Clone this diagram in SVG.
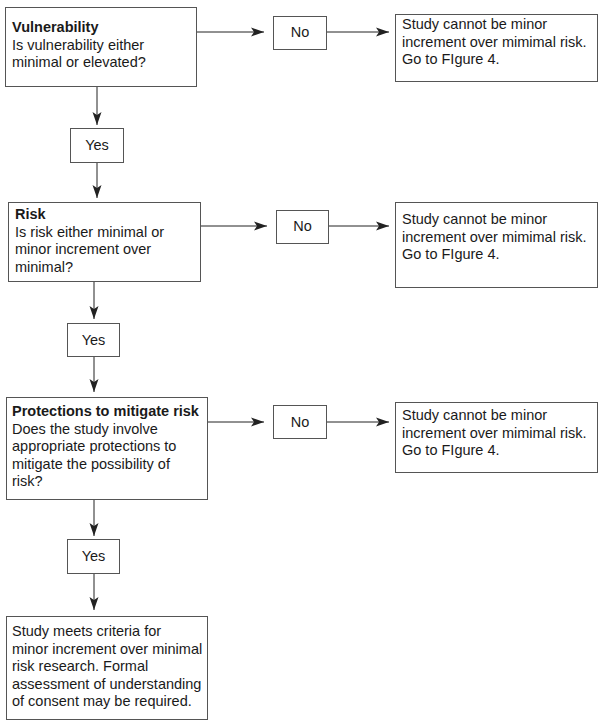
<svg xmlns="http://www.w3.org/2000/svg" width="603" height="725" viewBox="0 0 603 725">
<style>
.box{fill:#fff;stroke:#555;stroke-width:1}
.t{font-family:"Liberation Sans",Arial,sans-serif;font-size:14.5px;fill:#1a1a1a}
.b{font-weight:bold}
.c{stroke:#222;stroke-width:1;fill:none;marker-end:url(#ah)}
</style>
<defs>
<marker id="ah" markerWidth="14" markerHeight="10" refX="13" refY="5" orient="auto" markerUnits="userSpaceOnUse">
<path d="M0,0.5 L13,5 L0,9.5 L3,5 Z" fill="#222"/>
</marker>
</defs>
<rect width="603" height="725" fill="#fff"/>
<g id="connectors">
<line class="c" x1="197" y1="32" x2="264" y2="32"/>
<line class="c" x1="326" y1="32" x2="389" y2="32"/>
<line class="c" x1="97" y1="86" x2="97" y2="125"/>
<line class="c" x1="97" y1="162" x2="97" y2="198"/>
<line class="c" x1="201" y1="226" x2="267" y2="226"/>
<line class="c" x1="329" y1="226" x2="389" y2="226"/>
<line class="c" x1="94" y1="281" x2="94" y2="319"/>
<line class="c" x1="94" y1="356" x2="94" y2="392"/>
<line class="c" x1="207" y1="422" x2="264" y2="422"/>
<line class="c" x1="326" y1="422" x2="389" y2="422"/>
<line class="c" x1="94" y1="499" x2="94" y2="536"/>
<line class="c" x1="94" y1="573" x2="94" y2="610"/>
</g>
<g id="vulnerability">
<rect class="box" x="5.5" y="7.5" width="191" height="79"/>
<text class="t" x="12" y="32"><tspan class="b">Vulnerability</tspan><tspan x="12" dy="17.5">Is vulnerability either</tspan><tspan x="12" dy="17.5">minimal or elevated?</tspan></text>
</g>
<g id="no1">
<rect class="box" x="273.5" y="16.5" width="53" height="33"/>
<text class="t" x="300" y="37" text-anchor="middle">No</text>
</g>
<g id="result1">
<rect class="box" x="395.5" y="14.5" width="202" height="67"/>
<text class="t" x="402" y="29">Study cannot be minor<tspan x="402" dy="17.7">increment over mimimal risk.</tspan><tspan x="402" dy="17.7">Go to FIgure 4.</tspan></text>
</g>
<g id="yes1">
<rect class="box" x="70.5" y="128.5" width="53" height="34"/>
<text class="t" x="97" y="150" text-anchor="middle">Yes</text>
</g>
<g id="risk">
<rect class="box" x="8.5" y="202.5" width="192" height="79"/>
<text class="t" x="15" y="219"><tspan class="b">Risk</tspan><tspan x="15" dy="17.5">Is risk either minimal or</tspan><tspan x="15" dy="17.5">minor increment over</tspan><tspan x="15" dy="17.5">minimal?</tspan></text>
</g>
<g id="no2">
<rect class="box" x="276.5" y="210.5" width="52" height="33"/>
<text class="t" x="302.5" y="231" text-anchor="middle">No</text>
</g>
<g id="result2">
<rect class="box" x="395.5" y="202.5" width="202" height="85"/>
<text class="t" x="402" y="224">Study cannot be minor<tspan x="402" dy="17.7">increment over mimimal risk.</tspan><tspan x="402" dy="17.7">Go to FIgure 4.</tspan></text>
</g>
<g id="yes2">
<rect class="box" x="67.5" y="323.5" width="52" height="33"/>
<text class="t" x="93.5" y="345" text-anchor="middle">Yes</text>
</g>
<g id="protections">
<rect class="box" x="6.5" y="397.5" width="201" height="102"/>
<text class="t" x="12" y="416"><tspan class="b">Protections to mitigate risk</tspan><tspan x="12" dy="17.5">Does the study involve</tspan><tspan x="12" dy="17.5">appropriate protections to</tspan><tspan x="12" dy="17.5">mitigate the possibility of</tspan><tspan x="12" dy="17.5">risk?</tspan></text>
</g>
<g id="no3">
<rect class="box" x="273.5" y="405.5" width="53" height="33"/>
<text class="t" x="300" y="427" text-anchor="middle">No</text>
</g>
<g id="result3">
<rect class="box" x="395.5" y="402.5" width="202" height="70"/>
<text class="t" x="402" y="420">Study cannot be minor<tspan x="402" dy="17.7">increment over mimimal risk.</tspan><tspan x="402" dy="17.7">Go to FIgure 4.</tspan></text>
</g>
<g id="yes3">
<rect class="box" x="67.5" y="539.5" width="52" height="34"/>
<text class="t" x="93.5" y="561" text-anchor="middle">Yes</text>
</g>
<g id="final">
<rect class="box" x="6.5" y="616.5" width="201" height="103"/>
<text class="t" x="12" y="636">Study meets criteria for<tspan x="12" dy="17.5">minor increment over minimal</tspan><tspan x="12" dy="17.5">risk research. Formal</tspan><tspan x="12" dy="17.5">assessment of understanding</tspan><tspan x="12" dy="17.5">of consent may be required.</tspan></text>
</g>
</svg>
